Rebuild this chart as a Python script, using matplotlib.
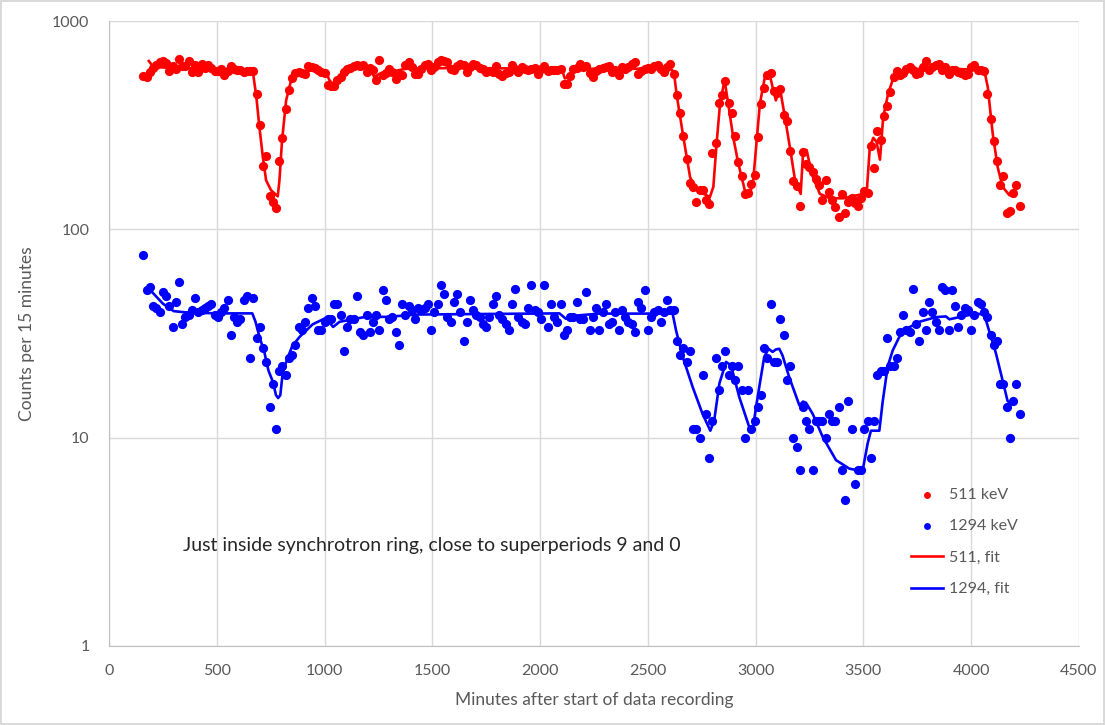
import numpy as np
import matplotlib.pyplot as plt
from matplotlib.ticker import FixedLocator, FixedFormatter, NullLocator

# sampling: one point per 15 minutes
t_start = 160
t_step = 15

counts_511 = [
    545, 540, 570, 595, 615, 635, 640, 630, 575, 610,
    590, 660, 605, 608, 645, 570, 615, 570, 620, 595,
    612, 595, 575, 575, 590, 552, 575, 610, 590, 585,
    580, 572, 578, 575, 578, 448, 318, 202, 225, 144,
    136, 126, 212, 273, 379, 464, 530, 560, 570, 565,
    555, 610, 600, 594, 580, 572, 560, 494, 485, 490,
    520, 540, 572, 587, 594, 609, 612, 609, 612, 572,
    594, 580, 520, 650, 551, 565, 590, 572, 528, 551,
    548, 613, 636, 600, 558, 558, 590, 613, 624, 579,
    600, 636, 653, 640, 636, 590, 580, 606, 624, 613,
    569, 600, 620, 613, 596, 590, 569, 575, 569, 606,
    558, 542, 560, 569, 613, 590, 569, 601, 590, 580,
    590, 596, 558, 590, 606, 575, 585, 579, 585, 590,
    500, 500, 542, 590, 596, 620, 600, 606, 560, 538,
    575, 590, 595, 601, 606, 569, 580, 548, 601, 590,
    601, 624, 636, 558, 575, 590, 595, 590, 606, 613,
    590, 569, 600, 624, 558, 442, 362, 280, 218, 167,
    160, 136, 154, 154, 138, 132, 233, 260, 404, 440,
    513, 404, 362, 280, 211, 180, 148, 150, 165, 183,
    276, 401, 476, 551, 565, 460, 452, 470, 355, 330,
    239, 170, 161, 129, 236, 205, 200, 189, 175, 163,
    139, 172, 151, 139, 128, 114, 147, 120, 135, 142,
    134, 129, 142, 152, 149, 250, 197, 295, 267, 351,
    392, 455, 541, 575, 550, 560, 591, 602, 580, 558,
    563, 600, 643, 580, 601, 613, 624, 585, 601, 558,
    585, 585, 569, 560, 548, 558, 601, 613, 585, 580,
    575, 448, 340, 266, 214, 164, 180, 120, 123, 150,
    163, 129,
]

counts_1294 = [
    75, 51, 53, 43, 42, 40, 50, 48, 43, 34,
    45, 56, 35, 38, 39, 41, 47, 40, 41, 42,
    43, 44, 39, 38, 40, 42, 46, 31, 38, 36,
    37, 46, 48, 24, 47, 30, 34, 27, 23, 14,
    18, 11, 21, 22, 20, 24, 25, 28, 34, 33,
    36, 42, 47, 43, 33, 33, 36, 37, 37, 44,
    44, 39, 26, 34, 37, 37, 48, 32, 31, 39,
    32, 36, 39, 33, 51, 46, 37, 38, 32, 28,
    44, 39, 43, 41, 37, 42, 41, 42, 44, 33,
    40, 44, 54, 49, 38, 36, 45, 49, 40, 29,
    36, 46, 41, 39, 38, 35, 34, 38, 44, 48,
    39, 37, 35, 33, 44, 52, 38, 36, 35, 42,
    54, 41, 40, 37, 54, 34, 44, 38, 36, 44,
    31, 33, 38, 38, 45, 37, 37, 50, 33, 38,
    42, 33, 40, 44, 35, 36, 40, 33, 41, 38,
    36, 35, 32, 45, 42, 51, 33, 38, 40, 41,
    36, 40, 46, 41, 41, 29, 25, 27, 23, 26,
    11, 11, 10, 20, 13, 8, 12, 24, 17, 22,
    26, 20, 22, 19, 22, 17, 10, 17, 11, 12,
    14, 16, 27, 24, 44, 23, 23, 37, 31, 19,
    22, 10, 9, 7, 14, 12, 11, 7, 12, 12,
    12, 10, 13, 12, 12, 14, 7, 5, 15, 11,
    6, 7, 7, 11, 12, 8, 12, 20, 21, 21,
    30, 22, 22, 24, 32, 39, 33, 32, 52, 35,
    29, 40, 33, 45, 40, 36, 33, 53, 51, 33,
    51, 43, 34, 39, 42, 41, 33, 39, 45, 44,
    40, 38, 31, 28, 29, 18, 18, 14, 10, 15,
    18, 13,
]

# fitted curves
fit_t_511 = [185, 200, 230, 300, 450, 600, 667, 683, 698, 714, 729, 752, 783, 791,
             803, 822, 845, 884, 946, 1007, 1023, 1046, 1069, 1100, 1146, 1208, 1231,
             1255, 1301, 1378, 1600, 2100, 2115, 2135, 2160, 2400, 2607, 2621, 2634,
             2665, 2696, 2726, 2788, 2804, 2819, 2835, 2856, 2873, 2896, 2920, 2950,
             2974, 2989, 3005, 3020, 3043, 3063, 3082, 3094, 3113, 3136, 3159, 3183,
             3209, 3221, 3237, 3260, 3298, 3345, 3407, 3500, 3515, 3530, 3546, 3561,
             3577, 3592, 3615, 3638, 3662, 3700, 3850, 4061, 4077, 4100, 4123, 4146,
             4177, 4200]
fit_511 = [643, 613, 600, 595, 592, 585, 575, 440, 310, 222, 172, 154, 144, 172,
           267, 416, 519, 569, 580, 569, 519, 491, 529, 569, 590, 601, 538,
           558, 569, 590, 595, 590, 530, 540, 590, 590, 590, 569, 440,
           277, 178, 154, 143, 160, 258, 401, 519, 401, 277, 207, 154,
           148, 172, 267, 401, 538, 569, 465, 416, 474, 346, 248, 172,
           148, 240, 240, 185, 148, 141, 141, 148, 148, 248, 275, 263,
           216, 346, 448, 529, 569, 585, 595, 580, 482, 288, 199, 160,
           146, 144]

fit_t_1294 = [170, 185, 200, 250, 300, 350, 500, 665, 680, 700, 720, 740, 760, 775,
              785, 795, 805, 815, 850, 885, 945, 1005, 1020, 1040, 1070, 1190, 1290,
              1430, 2090, 2120, 2160, 2275, 2615, 2631, 2662, 2708, 2754, 2790, 2808,
              2832, 2863, 2886, 2924, 2971, 2986, 3002, 3017, 3040, 3060, 3079, 3094,
              3110, 3125, 3156, 3203, 3220, 3234, 3265, 3311, 3373, 3435, 3496, 3520,
              3535, 3574, 3590, 3613, 3636, 3667, 3705, 3760, 3837, 3883, 3899, 3961,
              4022, 4061, 4084, 4115, 4146, 4169, 4185]
fit_1294 = [51, 53, 50, 44, 40.5, 40, 39.5, 39.5, 36, 30, 26, 21, 18.6, 16,
            15.5, 16, 20, 22, 27.5, 30.5, 35, 37.5, 36, 34, 36, 38, 38,
            39, 39.5, 37.2, 38.5, 39.4, 39.4, 32.7, 24.4, 17.5, 13, 10.8, 12.1,
            18.2, 23.1, 22.2, 15.7, 11.2, 10.8, 14, 17.5, 24.4, 26.7, 25.8, 26.5,
            26.7, 24.8, 19.5, 14.3, 14.9, 14.7, 13, 10.1, 7.8, 7.1, 6.9, 9.4,
            10.8, 10.8, 15, 22, 26.2, 30.5, 33.5, 36, 37.9, 38.2, 37, 38.2,
            39.4, 39, 32.4, 25.4, 18.8, 15, 14.5]

x_ticks = [0, 500, 1000, 1500, 2000, 2500, 3000, 3500, 4000, 4500]
y_ticks = [1, 10, 100, 1000]
y_tick_labels = ['1', '10', '100', '1000']

note = 'Just inside synchrotron ring, close to superperiods 9 and 0'

plt.rcParams['font.family'] = ['Lato', 'DejaVu Sans']

RED = '#ff0000'
BLUE = '#0000ff'
GRID = '#d9d9d9'
TXT = '#595959'

fig = plt.figure(figsize=(11.05, 7.25), dpi=100)
fig.patch.set_edgecolor(GRID)
fig.patch.set_linewidth(1.5)
ax = fig.add_axes([0.0986, 0.109, 0.8778, 0.862])

t = t_start + t_step * np.arange(len(counts_511))

h1 = ax.scatter(t, counts_511, s=44, color=RED, linewidths=0, zorder=3, label='511 keV')
h2 = ax.scatter(t, counts_1294, s=44, color=BLUE, linewidths=0, zorder=3, label='1294 keV')
h3, = ax.plot(fit_t_511, fit_511, color=RED, lw=1.9, zorder=4, label='511, fit')
h4, = ax.plot(fit_t_1294, fit_1294, color=BLUE, lw=1.9, zorder=4, label='1294, fit')

ax.set_yscale('log')
ax.set_xlim(0, 4500)
ax.set_ylim(1, 1000)
ax.xaxis.set_major_locator(FixedLocator(x_ticks))
ax.yaxis.set_major_locator(FixedLocator(y_ticks))
ax.yaxis.set_major_formatter(FixedFormatter(y_tick_labels))
ax.yaxis.set_minor_locator(NullLocator())

ax.grid(True, color=GRID, lw=1)
ax.set_axisbelow(True)
for side in ['top', 'right']:
    ax.spines[side].set_visible(False)
for side in ['left', 'bottom']:
    ax.spines[side].set_color('#bfbfbf')
ax.tick_params(length=0, labelsize=11.5, labelcolor=TXT)
ax.tick_params(axis='x', pad=13)
ax.tick_params(axis='y', pad=14)

ax.set_xlabel('Minutes after start of data recording', fontsize=12.5, color=TXT, labelpad=10)
ax.set_ylabel('Counts per 15 minutes', fontsize=12.5, color=TXT, labelpad=12)

ax.text(0.076, 0.16, note, transform=ax.transAxes, fontsize=14, color='#262626', va='center')

ax.legend(handles=[h1, h2, h3, h4], loc='upper left', bbox_to_anchor=(0.812, 0.276),
          frameon=False, fontsize=11.5, handlelength=2.0, handletextpad=0.4,
          labelspacing=1.08, labelcolor=TXT, markerscale=0.75)

fig.savefig('out.png', dpi=100)
